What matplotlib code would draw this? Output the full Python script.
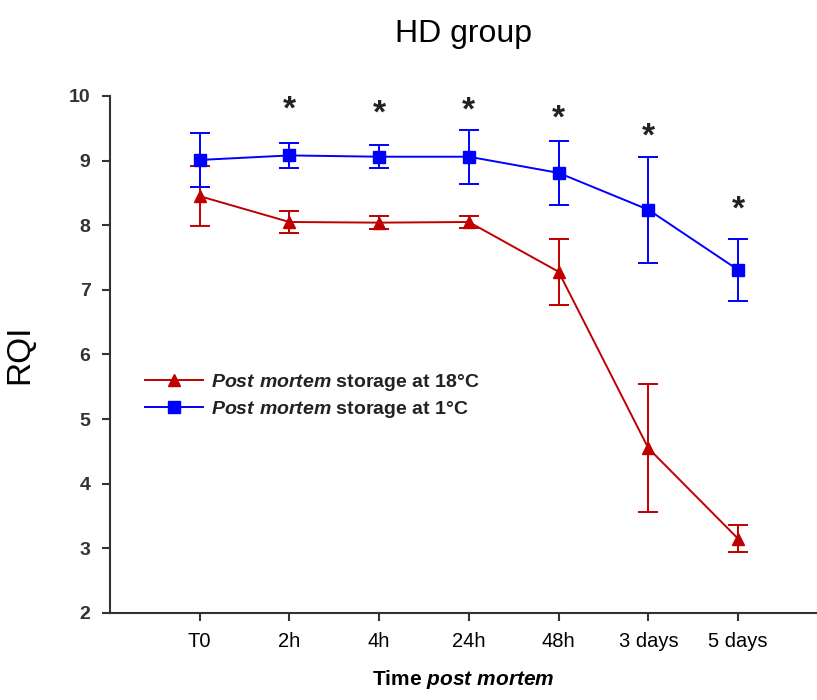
import matplotlib
matplotlib.use("Agg")
import matplotlib.pyplot as plt
from matplotlib.lines import Line2D

plt.rcParams['font.family'] = ['Liberation Sans', 'DejaVu Sans']
plt.rcParams['mathtext.fontset'] = 'custom'
plt.rcParams['mathtext.it'] = 'Liberation Sans:italic:bold'
plt.rcParams['mathtext.rm'] = 'Liberation Sans:bold'

times = ['T0', '2h', '4h', '24h', '48h', '3 days', '5 days']

# RQI means and error bars
rqi_18 = [8.45, 8.05, 8.04, 8.05, 7.28, 4.55, 3.15]
err_18 = [0.46, 0.17, 0.10, 0.10, 0.51, 0.99, 0.21]
rqi_1 = [9.01, 9.08, 9.06, 9.06, 8.81, 8.24, 7.31]
err_1 = [0.42, 0.20, 0.18, 0.42, 0.49, 0.82, 0.48]

# significance marks
star_pos = [1, 2, 3, 4, 5, 6]
star_y = [9.78, 9.72, 9.76, 9.64, 9.36, 8.23]

red = '#C00000'
blue = '#0000FF'
label_18 = r'$\it{Post\ mortem}$ storage at 18°C'
label_1 = r'$\it{Post\ mortem}$ storage at 1°C'

fig = plt.figure(figsize=(8.17, 7.0), dpi=100)
ax = fig.add_axes([0.1346, 0.1243, 0.8654, 0.7386])

x = list(range(len(times)))
ax.errorbar(x, rqi_18, yerr=err_18, color=red, marker='^', markersize=9,
            linewidth=1.4, elinewidth=1.4, capsize=7, capthick=1.4)
ax.errorbar(x, rqi_1, yerr=err_1, color=blue, marker='s', markersize=9,
            linewidth=1.4, elinewidth=1.4, capsize=7, capthick=1.4)

for xs, ys in zip(star_pos, star_y):
    ax.text(xs, ys, '*', ha='center', va='center', fontsize=24,
            fontweight='bold', color='#222222')

ax.set_xlim(-1.0, 6.88)
ax.set_ylim(2, 10)
ax.set_yticks(range(2, 11))
ax.set_xticks(x)
ax.set_xticklabels(times, fontsize=14.5)
for lab in ax.get_yticklabels():
    lab.set_fontsize(14)
    lab.set_fontweight('bold')
    lab.set_color('#333333')

ax.spines['top'].set_visible(False)
ax.spines['right'].set_visible(False)
for s in ['left', 'bottom']:
    ax.spines[s].set_linewidth(1.5)
    ax.spines[s].set_color('#333333')
ax.tick_params(direction='out', length=6, width=1.5, color='#333333', pad=8)

ax.set_ylabel('RQI', fontsize=24, labelpad=24)
ax.set_xlabel(r'Time $\it{post\ mortem}$', fontsize=15, fontweight='bold', labelpad=12)
fig.text(0.567, 0.952, 'HD group', ha='center', va='center', fontsize=23)

handles = [Line2D([], [], color=red, marker='^', markersize=8, linewidth=1.4),
           Line2D([], [], color=blue, marker='s', markersize=8, linewidth=1.4)]
leg = ax.legend(handles, [label_18, label_1], loc='upper left',
                bbox_to_anchor=(0.025, 0.5), frameon=False, fontsize=14,
                handlelength=3, handletextpad=0.4, labelspacing=0.3)
for t in leg.get_texts():
    t.set_fontweight('bold')
    t.set_color('#222222')

fig.savefig('out.png', dpi=100)
